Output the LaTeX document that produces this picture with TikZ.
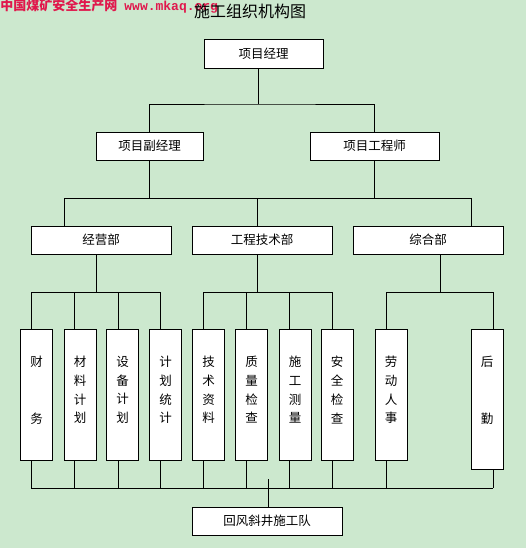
\documentclass[tikz,border=0pt]{standalone}
\usepackage{fontspec}
\newfontfamily\cjk{Noto Sans CJK SC}
\newfontfamily\wmmono{Liberation Mono}
\definecolor{bg}{HTML}{CCE8CE}
\definecolor{wm}{HTML}{E0184C}
\begin{document}
\begin{tikzpicture}[x=1pt,y=-1pt,
  line width=0.8pt,
  box/.style={draw=black, fill=white, line width=0.8pt, inner sep=0pt,
    font=\cjk\fontsize{12.5}{12.5}\selectfont, minimum height=28pt},
  vbox/.style={draw=black, fill=white, line width=0.8pt, inner sep=0pt,
    minimum width=32pt, minimum height=131pt},
  vtext/.style={font=\cjk\fontsize{12.5}{18.7}\selectfont, align=center, inner sep=0pt},
  ln/.style={draw=black, line width=0.8pt}]
\fill[bg] (0,0) rectangle (526,548);
\useasboundingbox (0,0) rectangle (526,548);

% watermark and title
\node[anchor=base west, inner sep=0pt, text=wm, font=\cjk\bfseries\fontsize{13}{13}\selectfont] (wm1) at (0,11) {中国煤矿安全生产网};
\node[anchor=base west, inner sep=0pt, text=wm, font=\wmmono\bfseries\fontsize{13}{13}\selectfont] (wm2) at (124,11) {www.mkaq.org};
\node[inner sep=0pt, font=\cjk\fontsize{16}{16}\selectfont] (title) at (250,11) {施工组织机构图};

% boxes
\node[box, minimum width=119pt, minimum height=29pt] (pm) at (263.5,53.5) {项目经理};
\node[box, minimum width=107pt] (dpm) at (149.5,146) {项目副经理};
\node[box, minimum width=129pt] (eng) at (374.5,146) {项目工程师};
\node[box, minimum width=140pt] (jy) at (101,240) {经营部};
\node[box, minimum width=140pt] (gc) at (262,240) {工程技术部};
\node[box, minimum width=150pt] (zh) at (428,240) {综合部};

\node[vbox, label={[vtext,yshift=4.5pt]center:{财\\[38.3pt]务}}] (v1) at (36.5,394.5) {};
\node[vbox, label={[vtext,yshift=4.5pt]center:{材\\料\\计\\划}}] (v2) at (80,394.5) {};
\node[vbox, label={[vtext,yshift=4.5pt]center:{设\\备\\计\\划}}] (v3) at (122.5,394.5) {};
\node[vbox, label={[vtext,yshift=4.5pt]center:{计\\划\\统\\计}}] (v4) at (165.5,394.5) {};
\node[vbox, label={[vtext,yshift=4.5pt]center:{技\\术\\资\\料}}] (v5) at (208.5,394.5) {};
\node[vbox, label={[vtext,yshift=4.5pt]center:{质\\量\\检\\查}}] (v6) at (251.5,394.5) {};
\node[vbox, label={[vtext,yshift=4.5pt]center:{施\\工\\测\\量}}] (v7) at (295,394.5) {};
\node[vbox, label={[vtext,yshift=4.5pt]center:{安\\全\\检\\查}}] (v8) at (337,394.5) {};
\node[vbox, label={[vtext,yshift=4.5pt]center:{劳\\动\\人\\事}}] (v9) at (391,394.5) {};
\node[vbox, minimum height=140pt, label={[vtext,yshift=8.5pt]center:{后\\[38.3pt]勤}}] (v10) at (487,399) {};

\node[box, minimum width=150pt] (team) at (267,521) {回风斜井施工队};

% junction coordinates
\coordinate (j1) at (258,104);
\coordinate (j2l) at (64,198);
\coordinate (j2m) at (257,198);
\coordinate (j2r) at (471,198);
\coordinate (g1) at (96,292);
\coordinate (g2) at (257,292);
\coordinate (g3) at (440,292);
\coordinate (bl) at (31,488);
\coordinate (br) at (493,488);
\coordinate (tt) at (268,479);

% level 1 -> 2
\draw[ln] (pm.south -| j1) -- (j1);
\draw[ln] (dpm.north) |- (j1) -| (eng.north);
% level 2 -> 3
\draw[ln] (dpm.south) -- (dpm.south |- j2l);
\draw[ln] (eng.south) -- (eng.south |- j2r);
\draw[ln] (j2l) -- (j2r);
\draw[ln] (j2l) -- (j2l |- jy.north);
\draw[ln] (j2m) -- (j2m |- gc.north);
\draw[ln] (j2r) -- (j2r |- zh.north);
% level 3 -> 4
\draw[ln] (jy.south -| g1) -- (g1);
\draw[ln] (gc.south -| g2) -- (g2);
\draw[ln] (zh.south -| g3) -- (g3);
\draw[ln] ([xshift=-5.5pt]v1.north) |- ([xshift=-5.5pt]v4.north |- g1) -- ([xshift=-5.5pt]v4.north);
\draw[ln] ([xshift=-6pt]v2.north) -- ([xshift=-6pt]v2.north |- g1);
\draw[ln] ([xshift=-4.5pt]v3.north) -- ([xshift=-4.5pt]v3.north |- g1);
\draw[ln] ([xshift=-5.5pt]v5.north) |- ([xshift=-5pt]v8.north |- g2) -- ([xshift=-5pt]v8.north);
\draw[ln] ([xshift=-5.5pt]v6.north) -- ([xshift=-5.5pt]v6.north |- g2);
\draw[ln] ([xshift=-6pt]v7.north) -- ([xshift=-6pt]v7.north |- g2);
\draw[ln] ([xshift=-5pt]v9.north) |- ([xshift=6pt]v10.north |- g3) -- ([xshift=6pt]v10.north);
% level 4 -> bottom
\draw[ln] (bl) -- (br);
\draw[ln] ([xshift=-5.5pt]v1.south) -- (bl);
\draw[ln] ([xshift=-6pt]v2.south) -- ([xshift=-6pt]v2.south |- bl);
\draw[ln] ([xshift=-4.5pt]v3.south) -- ([xshift=-4.5pt]v3.south |- bl);
\draw[ln] ([xshift=-5.5pt]v4.south) -- ([xshift=-5.5pt]v4.south |- bl);
\draw[ln] ([xshift=-5.5pt]v5.south) -- ([xshift=-5.5pt]v5.south |- bl);
\draw[ln] ([xshift=-5.5pt]v6.south) -- ([xshift=-5.5pt]v6.south |- bl);
\draw[ln] ([xshift=-6pt]v7.south) -- ([xshift=-6pt]v7.south |- bl);
\draw[ln] ([xshift=-5pt]v8.south) -- ([xshift=-5pt]v8.south |- bl);
\draw[ln] ([xshift=-5pt]v9.south) -- ([xshift=-5pt]v9.south |- bl);
\draw[ln] ([xshift=6pt]v10.south) -- (br);
\draw[ln] (tt) -- (tt |- team.north);
\end{tikzpicture}
\end{document}
